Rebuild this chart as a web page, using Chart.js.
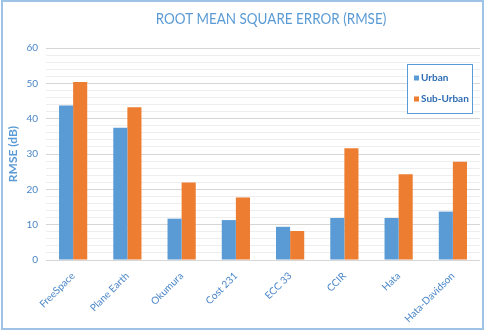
<!DOCTYPE html>
<html>
<head>
<meta charset="utf-8">
<script src="https://cdn.jsdelivr.net/npm/chart.js@4.4.1/dist/chart.umd.min.js"></script>
<style>
  html, body { margin: 0; padding: 0; background: #ffffff; }
  #wrap { width: 485px; height: 332px; position: relative; }
</style>
</head>
<body>
<div id="wrap"><canvas id="c" width="485" height="332"></canvas></div>
<script>
// Propagation models compared
const categories = ['FreeSpace', 'Plane Earth', 'Okumura', 'Cost 231', 'ECC 33', 'CCIR', 'Hata', 'Hata-Davidson'];
// RMSE in dB for each environment
const urban = [43.7, 37.4, 11.7, 11.3, 9.4, 11.9, 11.9, 13.7];
const subUrban = [50.4, 43.2, 21.9, 17.7, 8.2, 31.6, 24.3, 27.8];
const seriesNames = ['Urban', 'Sub-Urban'];
const yTicks = [0, 10, 20, 30, 40, 50, 60];
const chartTitle = 'ROOT MEAN SQUARE ERROR (RMSE)';

const BLUE = '#5b9bd5';
const ORANGE = '#ed7d31';
const TEXT_BLUE = '#4a86c8';
const FONT = 'Lato, "Open Sans", sans-serif';

// Frame, title and boxed legend drawn on the canvas
const decorations = {
  id: 'decorations',
  afterDraw(chart) {
    const ctx = chart.ctx;
    ctx.save();
    // outer frame
    ctx.strokeStyle = '#9dc3e6';
    ctx.lineWidth = 2;
    ctx.strokeRect(2, 1, 481, 328);

    // title, slightly condensed
    ctx.save();
    ctx.translate(271, 19);
    ctx.scale(0.84, 1);
    ctx.fillStyle = BLUE;
    ctx.font = '16px ' + FONT;
    ctx.textAlign = 'center';
    ctx.textBaseline = 'middle';
    ctx.fillText(chartTitle, 0, 0);
    ctx.restore();

    // legend box
    const bx = 407, by = 64, bw = 65, bh = 49;
    ctx.fillStyle = '#ffffff';
    ctx.fillRect(bx, by, bw, bh);
    ctx.strokeStyle = BLUE;
    ctx.lineWidth = 1;
    ctx.strokeRect(bx + 0.5, by + 0.5, bw, bh);
    ctx.font = 'bold 10px ' + FONT;
    ctx.textAlign = 'left';
    ctx.textBaseline = 'middle';
    chart.data.datasets.forEach((ds, i) => {
      const y = by + 14 + i * 21;
      ctx.fillStyle = ds.backgroundColor;
      ctx.fillRect(bx + 7, y - 2.5, 5, 5);
      ctx.fillStyle = '#2e6db4';
      ctx.fillText(ds.label, bx + 14, y);
    });
    ctx.restore();
  }
};

new Chart(document.getElementById('c'), {
  type: 'bar',
  data: {
    labels: categories,
    datasets: [
      { label: seriesNames[0], data: urban, backgroundColor: BLUE },
      { label: seriesNames[1], data: subUrban, backgroundColor: ORANGE }
    ]
  },
  options: {
    responsive: false,
    animation: false,
    devicePixelRatio: 1,
    layout: { padding: { left: 4, right: 5, top: 48, bottom: 4 } },
    datasets: { bar: { categoryPercentage: 0.52, barPercentage: 1.0 } },
    plugins: {
      legend: { display: false },
      title: { display: false },
      tooltip: { enabled: false }
    },
    scales: {
      x: {
        grid: { display: false },
        border: { display: false },
        ticks: {
          color: TEXT_BLUE,
          font: { family: FONT, size: 10 },
          maxRotation: 45,
          minRotation: 45,
          autoSkip: false,
          padding: 2
        },
        afterFit(scale) { scale.height = 68; }
      },
      y: {
        min: yTicks[0],
        max: yTicks[yTicks.length - 1],
        border: { display: false },
        grid: {
          drawTicks: false,
          color: (c) => (yTicks.includes(c.tick.value) ? '#d6d6d6' : '#eeeeee'),
          lineWidth: 1
        },
        ticks: {
          stepSize: 2,
          autoSkip: false,
          padding: 8,
          color: TEXT_BLUE,
          font: { family: FONT, size: 10 },
          callback: (v) => (yTicks.includes(v) ? String(v) : '')
        },
        title: {
          display: true,
          text: 'RMSE (dB)',
          color: BLUE,
          font: { family: FONT, size: 12, weight: 'bold' },
          padding: { top: 2, bottom: 0 }
        },
        afterFit(scale) { scale.width = 42; }
      }
    }
  },
  plugins: [decorations]
});
</script>
</body>
</html>
